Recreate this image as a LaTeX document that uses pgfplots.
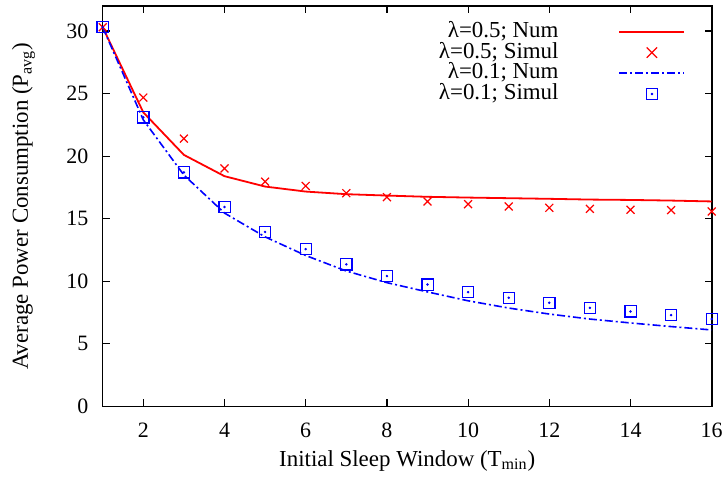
\documentclass[border=0pt]{standalone}
\usepackage{fontspec}
\setmainfont{Liberation Serif}
\usepackage{pgfplots}
\pgfplotsset{compat=1.18}
\begin{document}
\fontsize{11.5}{13}\selectfont
\begin{tikzpicture}
\begin{axis}[
  scale only axis,
  width=304.5bp, height=200.2bp,
  xmin=1, xmax=16, ymin=0, ymax=32,
  xtick={2,4,...,16}, ytick={0,5,...,30},
  tick align=inside,
  major tick length=3.5bp,
  axis line style={line width=0.8bp},
  every tick/.style={line width=0.6bp, black},
  /pgf/number format/assume math mode=true,
  tick label style={font=\fontsize{11}{13}\selectfont},
  yticklabel style={xshift=-3.2bp},
  xticklabel style={yshift=-4.3bp},
  label style={font=\fontsize{11.5}{13}\selectfont},
  xlabel={Initial Sleep Window (T\textsubscript{min})},
  ylabel={Average Power Consumption (P\textsubscript{avg})},
  xlabel style={at={(axis description cs:0.5,0)}, anchor=north, yshift=-18bp},
  ylabel style={at={(axis description cs:-0.13,0.5)}, anchor=center},
  legend cell align=right,
  legend plot pos=right,
  legend style={draw=none, fill=none, at={(axis description cs:1,1)}, anchor=north east,
    xshift=-10bp, yshift=-5.5bp, row sep=-0.15bp, column sep=30bp,
    nodes={inner sep=0pt, text height=8bp, text depth=2.5bp},
    font=\fontsize{11.5}{13}\selectfont},
]
\addplot[red, line width=0.9bp, no markers,
  legend image code/.code={\draw[red, line width=0.9bp] (0bp,0bp) -- (32.5bp,0bp);}]
  coordinates {(1,30.3) (2,23.5) (3,20.1) (4,18.4) (5,17.57) (6,17.17) (7,16.96) (8,16.85) (9,16.75) (10,16.69) (11,16.64) (12,16.59) (13,16.53) (14,16.5) (15,16.45) (16,16.38)};
\addlegendentry{λ=0.5; Num}
\addplot[red, only marks, mark=x, mark size=2.8bp, mark options={line width=0.6bp},
  legend image code/.code={\path (0bp,0bp) (32.5bp,0bp); \draw[red, line width=0.6bp] (13.65bp,-2.6bp) -- (18.85bp,2.6bp) (13.65bp,2.6bp) -- (18.85bp,-2.6bp);}]
  coordinates {(1,30.3) (2,24.68) (3,21.4) (4,19.02) (5,17.96) (6,17.62) (7,17.04) (8,16.72) (9,16.38) (10,16.16) (11,15.98) (12,15.87) (13,15.79) (14,15.71) (15,15.69) (16,15.58)};
\addlegendentry{λ=0.5; Simul}
\addplot[blue, line width=0.8bp, no markers, dash pattern=on 4bp off 1.5bp on 1bp off 1.5bp,
  legend image code/.code={\draw[blue, line width=0.8bp, dash pattern=on 4bp off 1.5bp on 1bp off 1.5bp] (0bp,0bp) -- (32.5bp,0bp);}]
  coordinates {(1,30.3) (2,22.9) (3,18.49) (4,15.45) (5,13.55) (6,12.06) (7,10.82) (8,9.89) (9,9.15) (10,8.44) (11,7.86) (12,7.38) (13,6.98) (14,6.67) (15,6.38) (16,6.11)};
\addlegendentry{λ=0.1; Num}
\addplot[blue, only marks, mark=square, mark size=2.8bp, mark options={line width=0.6bp},
  legend image code/.code={\path (0bp,0bp) (32.5bp,0bp); \draw[blue, line width=0.6bp] (13.45bp,-2.8bp) rectangle (19.05bp,2.8bp); \fill[blue] (16.25bp,0bp) circle (0.4bp);}]
  coordinates {(1,30.3) (2,23.1) (3,18.7) (4,15.93) (5,13.94) (6,12.57) (7,11.35) (8,10.42) (9,9.74) (10,9.13) (11,8.68) (12,8.28) (13,7.88) (14,7.59) (15,7.3) (16,6.98)};
\addlegendentry{λ=0.1; Simul}
\addplot[blue, only marks, mark=*, mark size=0.4bp, forget plot]
  coordinates {(1,30.3) (2,23.1) (3,18.7) (4,15.93) (5,13.94) (6,12.57) (7,11.35) (8,10.42) (9,9.74) (10,9.13) (11,8.68) (12,8.28) (13,7.88) (14,7.59) (15,7.3) (16,6.98)};
\coordinate (sw) at (rel axis cs:0,0);
\coordinate (ne) at (rel axis cs:1,1);
\end{axis}
\pgfresetboundingbox
\path[use as bounding box] (sw) ++(-51.35bp,-35.35bp) rectangle ([xshift=8.15bp,yshift=3bp]ne);
\end{tikzpicture}
\end{document}
